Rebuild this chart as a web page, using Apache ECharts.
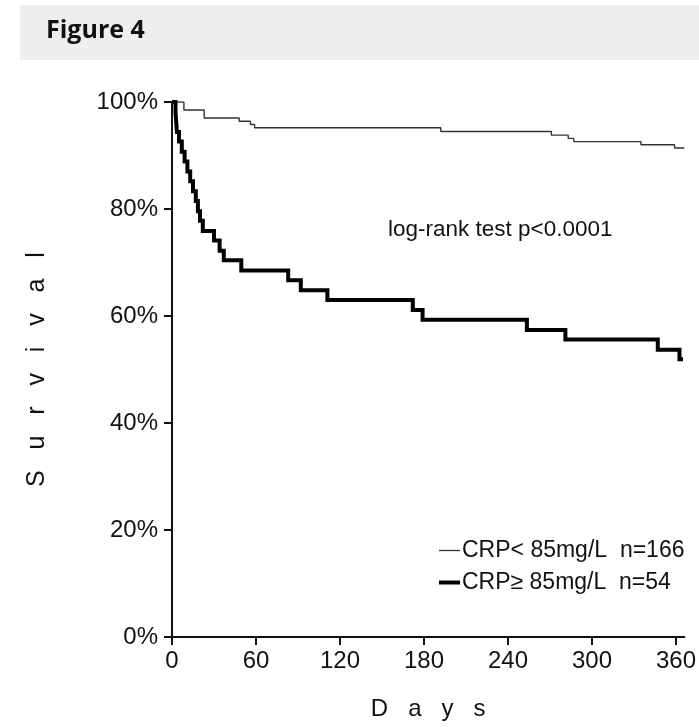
<!DOCTYPE html>
<html>
<head>
<meta charset="utf-8">
<script src="https://cdn.jsdelivr.net/npm/echarts@6/dist/echarts.min.js"></script>
<style>
html,body{margin:0;padding:0;background:#fff;}
#chart{width:699px;height:727px;}
</style>
</head>
<body>
<div id="chart"></div>
<script>
// ---- data (days, survival %) ----
const seriesNames = ['CRP< 85mg/L  n=166', 'CRP\u2265 85mg/L  n=54'];
const lowCrpDays   = [0, 8.5, 23, 48, 56, 59, 192, 271, 283, 287, 335, 359, 366];
const lowCrpSurv   = [100, 98.5, 97.0, 96.4, 95.8, 95.2, 94.5, 93.8, 93.2, 92.6, 92.0, 91.4, 91.4];
const highCrpDays  = [0, 2.5, 3, 3.5, 5, 7, 9, 11, 13, 15, 17, 18.5, 20, 22, 30, 34, 37, 49.5, 83, 92, 111, 172, 179, 253.5, 281, 347, 362.5, 365];
const highCrpSurv  = [100, 98.1, 96.3, 94.4, 92.6, 90.7, 88.9, 87.0, 85.2, 83.3, 81.5, 79.6, 77.8, 75.9, 74.1, 72.2, 70.4, 68.5, 66.7, 64.8, 63.0, 61.1, 59.3, 57.4, 55.6, 53.7, 51.9, 51.9];
const xTicks = [0, 60, 120, 180, 240, 300, 360];
const yTicks = [0, 20, 40, 60, 80, 100];
const figureTitle = 'Figure 4';
const annotation = 'log-rank test p<0.0001';
const xName = 'D   a   y   s';
const yName = 'S   u   r   v   i   v   a   l';

const pairs = (xs, ys) => xs.map((x, i) => [x, ys[i]]);
const FONT = '"Liberation Sans", Arial, sans-serif';

const chart = echarts.init(document.getElementById('chart'), null, {renderer: 'canvas'});
chart.setOption({
  animation: false,
  backgroundColor: '#fff',
  grid: {left: 172, right: 13, top: 102, bottom: 90, containLabel: false},
  xAxis: {
    type: 'value', min: 0, max: 366, interval: 60,
    name: xName, nameLocation: 'middle', nameGap: 60,
    nameTextStyle: {fontFamily: FONT, fontSize: 24, color: '#111'},
    axisLine: {show: true, onZero: false, lineStyle: {color: '#111', width: 2}},
    axisTick: {show: true, length: 8, lineStyle: {color: '#111', width: 2}, customValues: xTicks},
    axisLabel: {fontFamily: FONT, fontSize: 24, color: '#111', margin: 12, customValues: xTicks},
    splitLine: {show: false}
  },
  yAxis: {
    type: 'value', min: 0, max: 100, interval: 20,
    name: yName, nameLocation: 'middle', nameGap: 122, nameRotate: 90,
    nameTextStyle: {fontFamily: FONT, fontSize: 25, color: '#111'},
    axisLine: {show: true, onZero: false, lineStyle: {color: '#111', width: 2}},
    axisTick: {show: true, length: 8, lineStyle: {color: '#111', width: 2}},
    axisLabel: {fontFamily: FONT, fontSize: 24, color: '#111', margin: 14, formatter: '{value}%', customValues: yTicks},
    splitLine: {show: false}
  },
  legend: {
    orient: 'vertical', left: 432, top: 534, itemGap: 9,
    itemWidth: 21, itemHeight: 14,
    textStyle: {fontFamily: FONT, fontSize: 23, color: '#111', padding: [0, 0, 0, -3]},
    data: [
      {name: seriesNames[0], lineStyle: {width: 1.3, color: '#333'}, itemStyle: {opacity: 0}},
      {name: seriesNames[1], lineStyle: {width: 4, color: '#000'}, itemStyle: {opacity: 0}}
    ]
  },
  series: [
    {
      name: seriesNames[0], type: 'line', step: 'end', symbol: 'none',
      data: pairs(lowCrpDays, lowCrpSurv),
      lineStyle: {color: '#333', width: 1.4}, itemStyle: {color: '#333'}, z: 3
    },
    {
      name: seriesNames[1], type: 'line', step: 'end', symbol: 'none',
      data: pairs(highCrpDays, highCrpSurv),
      lineStyle: {color: '#000', width: 4, join: 'miter'}, itemStyle: {color: '#000'}, z: 4
    }
  ],
  graphic: [
    {type: 'rect', left: 20, top: 5, shape: {width: 679, height: 55}, style: {fill: '#eeeeee'}, silent: true, z: -1},
    {type: 'text', left: 46, top: 18, style: {text: figureTitle, fontFamily: '"Open Sans", sans-serif', fontWeight: 'bold', fontSize: 25, fill: '#111'}},
    {type: 'text', left: 388, top: 218, style: {text: annotation, fontFamily: FONT, fontSize: 22.5, fill: '#111'}}
  ]
});
</script>
</body>
</html>
